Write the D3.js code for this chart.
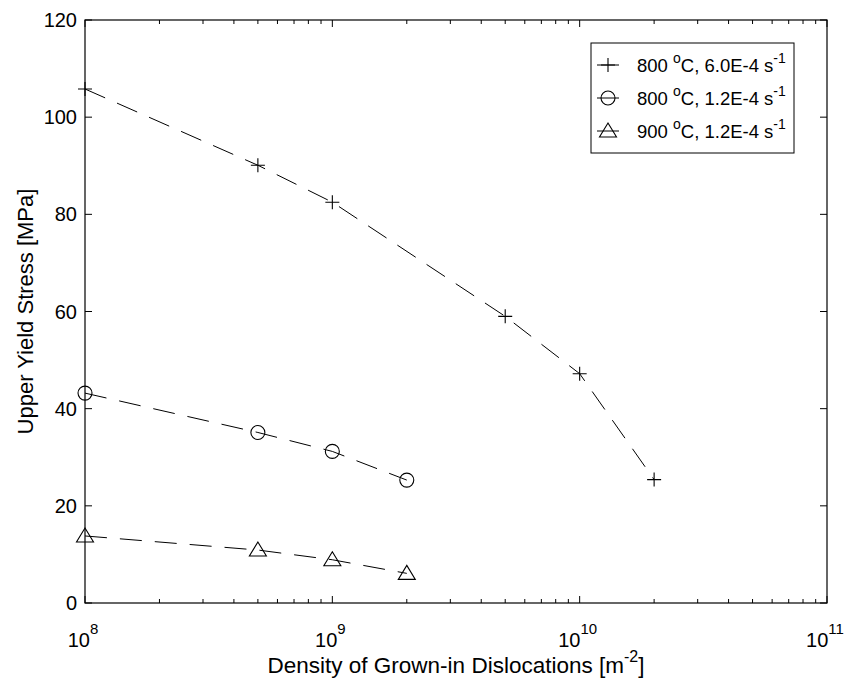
<!DOCTYPE html>
<html>
<head>
<meta charset="utf-8">
<script src="https://cdn.jsdelivr.net/npm/d3@7"></script>
<style>
  body { margin: 0; background: #fff; }
  text { font-family: "Liberation Sans", Arial, sans-serif; fill: #000; }
</style>
</head>
<body>
<svg width="849" height="683"></svg>
<script>
// data
const xTicks = [1e8, 1e9, 1e10, 1e11];
const yTicks = [0, 20, 40, 60, 80, 100, 120];

const density1 = [1e8, 5e8, 1e9, 5e9, 1e10, 2e10];
const stress1 = [105.8, 90.1, 82.5, 59, 47.2, 25.4];

const density2 = [1e8, 5e8, 1e9, 2e9];
const stress2 = [43.2, 35.1, 31.2, 25.3];

const density3 = [1e8, 5e8, 1e9, 2e9];
const stress3 = [13.8, 10.9, 8.9, 6.1];

const legendTemp = ["800", "800", "900"];
const legendRate = ["6.0E-4", "1.2E-4", "1.2E-4"];
const markers = ["plus", "circle", "triangle"];

const svg = d3.select("svg");
const plotLeft = 85, plotRight = 827, plotTop = 20, plotBottom = 603;

const x = d3.scaleLog().domain([1e8, 1e11]).range([plotLeft, plotRight]);
const y = d3.scaleLinear().domain([0, 120]).range([plotBottom, plotTop]);

const series = [
  { xs: density1, ys: stress1, marker: markers[0] },
  { xs: density2, ys: stress2, marker: markers[1] },
  { xs: density3, ys: stress3, marker: markers[2] }
];

// frame
svg.append("rect")
  .attr("x", plotLeft).attr("y", plotTop)
  .attr("width", plotRight - plotLeft).attr("height", plotBottom - plotTop)
  .attr("fill", "none").attr("stroke", "#000").attr("stroke-width", 1.2);

// minor ticks on the log axis
const minor = [];
for (let e = 8; e < 11; e++) for (let m = 2; m <= 9; m++) minor.push(m * Math.pow(10, e));
const tickG = svg.append("g").attr("stroke", "#000").attr("stroke-width", 1);
minor.forEach(v => {
  tickG.append("line").attr("x1", x(v)).attr("x2", x(v)).attr("y1", plotBottom).attr("y2", plotBottom - 4);
  tickG.append("line").attr("x1", x(v)).attr("x2", x(v)).attr("y1", plotTop).attr("y2", plotTop + 4);
});
xTicks.forEach(v => {
  tickG.append("line").attr("x1", x(v)).attr("x2", x(v)).attr("y1", plotBottom).attr("y2", plotBottom - 7);
  tickG.append("line").attr("x1", x(v)).attr("x2", x(v)).attr("y1", plotTop).attr("y2", plotTop + 7);
});
yTicks.forEach(v => {
  tickG.append("line").attr("x1", plotLeft).attr("x2", plotLeft + 7).attr("y1", y(v)).attr("y2", y(v));
  tickG.append("line").attr("x1", plotRight).attr("x2", plotRight - 7).attr("y1", y(v)).attr("y2", y(v));
});

// y tick labels
svg.append("g").selectAll("text").data(yTicks).join("text")
  .attr("x", plotLeft - 8).attr("y", d => y(d) + 7)
  .attr("text-anchor", "end").attr("font-size", 20)
  .text(d => d);

// x tick labels 10^n
const xl = svg.append("g").selectAll("text").data(xTicks).join("text")
  .attr("x", d => x(d) - 2).attr("y", plotBottom + 44)
  .attr("text-anchor", "middle").attr("font-size", 20);
xl.append("tspan").text("10");
xl.append("tspan").attr("dy", -13).attr("font-size", 15).text(d => Math.round(Math.log10(d)));

// axis labels
svg.append("text")
  .attr("transform", `translate(33,${(plotTop + plotBottom) / 2}) rotate(-90)`)
  .attr("text-anchor", "middle").attr("font-size", 22)
  .text("Upper Yield Stress [MPa]");

const xlab = svg.append("text")
  .attr("x", (plotLeft + plotRight) / 2).attr("y", 673)
  .attr("text-anchor", "middle").attr("font-size", 22.5);
xlab.append("tspan").text("Density of Grown-in Dislocations [m");
xlab.append("tspan").attr("dy", -11).attr("font-size", 16).text("-2");
xlab.append("tspan").attr("dy", 11).text("]");

// marker drawer
function drawMarker(g, type, cx, cy) {
  if (type === "plus") {
    g.append("path").attr("d", `M${cx - 7},${cy}H${cx + 7}M${cx},${cy - 7}V${cy + 7}`)
      .attr("stroke", "#000").attr("fill", "none").attr("stroke-width", 1.1);
  } else if (type === "circle") {
    g.append("circle").attr("cx", cx).attr("cy", cy).attr("r", 7)
      .attr("stroke", "#000").attr("fill", "none").attr("stroke-width", 1.1);
  } else {
    g.append("path").attr("d", `M${cx},${cy - 8}L${cx + 8.5},${cy + 6}L${cx - 8.5},${cy + 6}Z`)
      .attr("stroke", "#000").attr("fill", "none").attr("stroke-width", 1.1);
  }
}

const line = d3.line().x(d => x(d[0])).y(d => y(d[1]));
const plot = svg.append("g");
series.forEach(s => {
  const pts = s.xs.map((v, i) => [v, s.ys[i]]);
  plot.append("path").attr("d", line(pts))
    .attr("fill", "none").attr("stroke", "#000").attr("stroke-width", 1)
    .attr("stroke-dasharray", "22,13");
  pts.forEach(p => drawMarker(plot, s.marker, x(p[0]), y(p[1])));
});

// legend
const lg = svg.append("g");
lg.append("rect").attr("x", 591).attr("y", 43).attr("width", 203).attr("height", 110)
  .attr("fill", "#fff").attr("stroke", "#000").attr("stroke-width", 1);
legendTemp.forEach((temp, i) => {
  const cy = 65 + i * 33;
  lg.append("line").attr("x1", 597).attr("x2", 619).attr("y1", cy).attr("y2", cy)
    .attr("stroke", "#000").attr("stroke-width", 1).attr("stroke-dasharray", "22,13");
  drawMarker(lg, markers[i], 608, cy);
  const t = lg.append("text").attr("x", 637).attr("y", cy + 7).attr("font-size", 18.5);
  t.append("tspan").text(temp + " ");
  t.append("tspan").attr("dy", -9).attr("font-size", 14).text("o");
  t.append("tspan").attr("dy", 9).text("C, " + legendRate[i] + " s");
  t.append("tspan").attr("dy", -9).attr("font-size", 14).text("-1");
});
</script>
</body>
</html>
